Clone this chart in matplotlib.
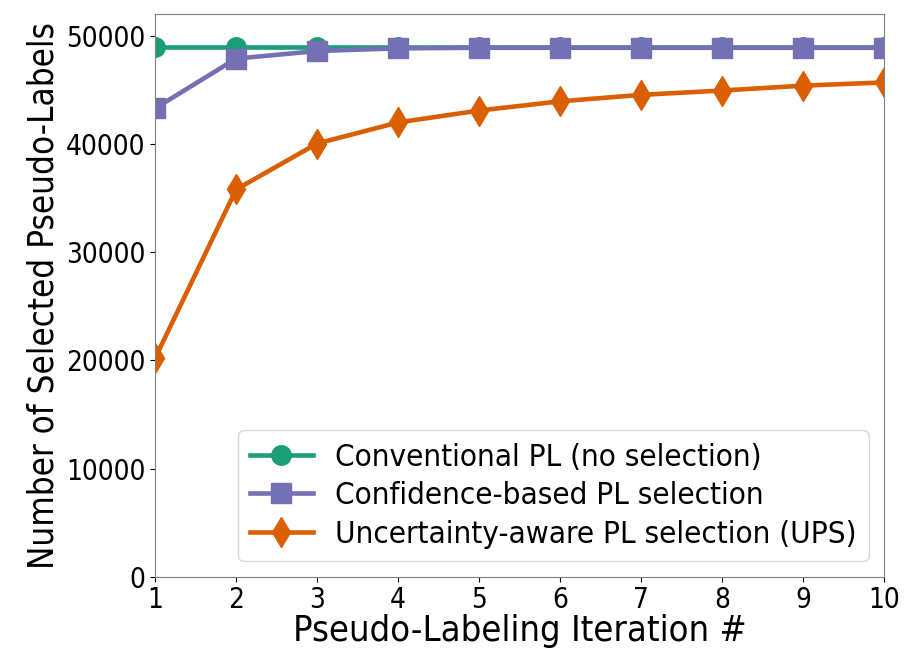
import matplotlib
matplotlib.use("Agg")
import matplotlib.pyplot as plt

iterations = [1, 2, 3, 4, 5, 6, 7, 8, 9, 10]
conventional = [49000, 49000, 49000, 49000, 49000, 49000, 49000, 49000, 49000, 49000]
confidence = [43300, 47900, 48600, 48850, 48900, 48900, 48900, 48900, 48900, 48900]
ups = [20200, 35800, 40050, 42000, 43100, 43950, 44550, 44950, 45400, 45700]

labels = [
    "Conventional PL (no selection)",
    "Confidence-based PL selection",
    "Uncertainty-aware PL selection (UPS)",
]
colors = ["#1b9e77", "#7570b3", "#d95f02"]

plt.rcParams["font.family"] = "DejaVu Sans"
plt.rcParams["font.stretch"] = "condensed"

fig, ax = plt.subplots(figsize=(9.07, 6.48), dpi=100)
fig.subplots_adjust(left=0.171, right=0.975, top=0.978, bottom=0.11)

ax.plot(iterations, conventional, color=colors[0], marker="o", lw=3.3, ms=14, label=labels[0])
ax.plot(iterations, confidence, color=colors[1], marker="s", lw=3.3, ms=14, label=labels[1])
ax.plot(iterations, ups, color=colors[2], marker="d", lw=3.3, ms=15, label=labels[2])

ax.set_xlim(1, 10)
ax.set_ylim(0, 52000)
ax.set_xticks(iterations)
ax.set_yticks([0, 10000, 20000, 30000, 40000, 50000])
ax.tick_params(labelsize=20)
for s in ax.spines.values():
    s.set_color("#808080")

ax.set_xlabel("Pseudo-Labeling Iteration #", fontsize=26, labelpad=0)
ax.set_ylabel("Number of Selected Pseudo-Labels", fontsize=25, labelpad=4)
ax.legend(loc="lower right", fontsize=22.5, handlelength=2.0, handletextpad=0.7,
          labelspacing=0.3, borderaxespad=0.5)

fig.savefig("out.png", dpi=100, facecolor="white")
